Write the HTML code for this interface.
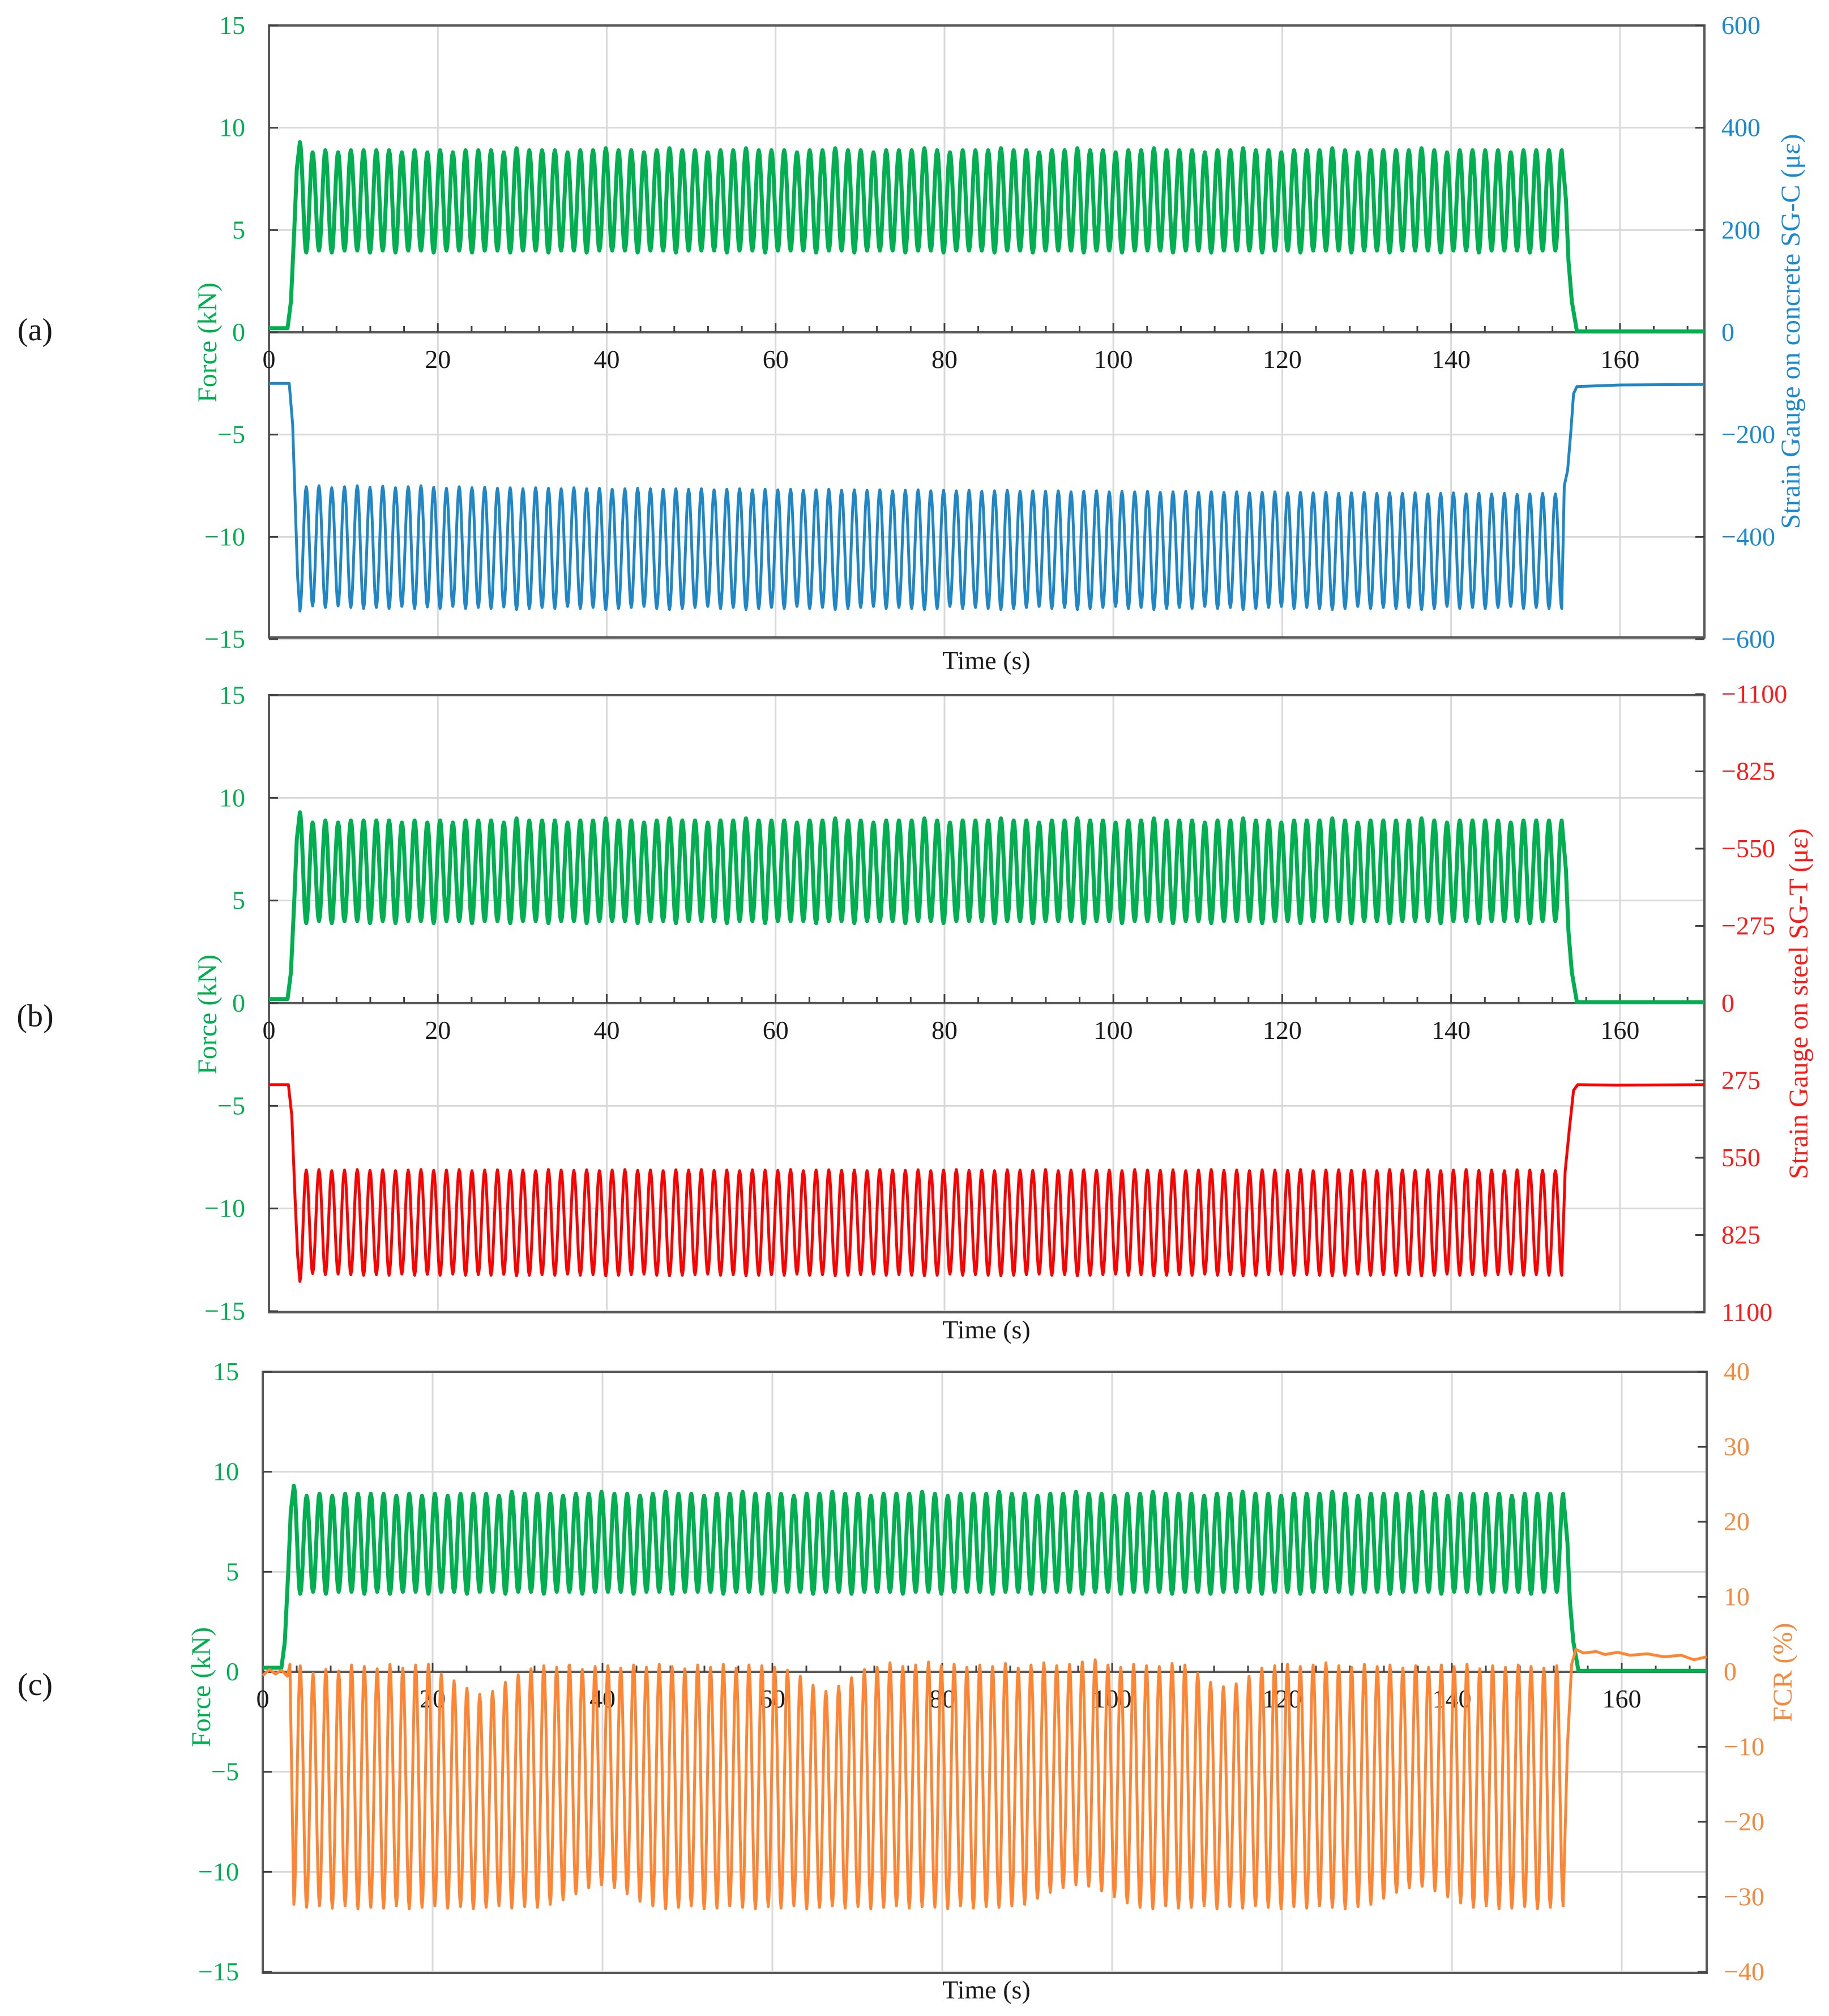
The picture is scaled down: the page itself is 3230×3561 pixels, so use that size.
<!DOCTYPE html>
<html><head><meta charset="utf-8"><title>Force and strain time histories</title>
<style>
html,body{margin:0;padding:0;background:#fff}
svg{display:block}
text{font-family:"Liberation Serif",serif}
</style></head>
<body>
<svg id="chart" xmlns="http://www.w3.org/2000/svg" width="3230" height="3561" viewBox="0 0 3230 3561"></svg>
<script>
// ---- shared x axis data ----
const xTicks = [0,20,40,60,80,100,120,140,160];
const xMax = 170;
const cycleStart = 3.66;   // time of first force peak (s)
const cyclePeriod = 1.5095; // s

// ---- Force (kN) values at each force peak and between peaks ----
const forcePeaks = [9.3,8.8,8.9,8.8,8.9,8.9,8.9,8.9,8.8,8.9,
8.8,8.9,8.8,8.9,8.9,8.9,8.8,9.0,8.9,8.9,
8.9,8.8,8.9,8.9,9.0,8.9,8.9,8.8,8.9,9.0,
8.9,8.9,8.8,8.9,8.9,9.0,8.9,8.9,8.9,8.8,
8.9,8.9,9.0,8.9,8.9,8.8,8.9,8.9,8.9,9.0,
8.9,8.8,8.9,8.9,8.9,9.0,8.9,8.9,8.8,8.9,
8.9,9.0,8.9,8.9,8.8,8.9,8.9,9.0,8.9,8.9,
8.9,8.8,8.9,8.9,9.0,8.9,8.9,8.8,8.9,8.9,
8.9,9.0,8.9,8.8,8.9,8.9,8.9,8.9,9.0,8.9,
8.8,8.9,8.9,8.9,8.9,8.8,8.9,8.9,8.9,8.9];
const forceTroughs = [3.9,4.0,3.9,4.0,4.0,3.9,4.0,3.9,4.0,4.0,
3.9,4.0,4.0,3.9,4.0,4.0,3.9,4.0,4.0,3.9,
4.0,4.0,3.9,4.0,4.0,4.0,3.9,4.0,4.0,3.9,
4.0,4.0,4.0,3.9,4.0,4.0,3.9,4.0,4.0,4.0,
3.9,4.0,4.0,3.9,4.0,4.0,4.0,3.9,4.0,4.0,
3.9,4.0,4.0,4.0,3.9,4.0,4.0,3.9,4.0,4.0,
4.0,3.9,4.0,4.0,3.9,4.0,4.0,4.0,3.9,4.0,
4.0,3.9,4.0,4.0,4.0,3.9,4.0,4.0,3.9,4.0,
4.0,4.0,3.9,4.0,4.0,3.9,4.0,4.0,4.0,3.9,
4.0,4.0,3.9,4.0,4.0,4.0,3.9,4.0,4.0];
const forcePre = [[0,0.2],[2.2,0.2],[2.6,1.5],[3.0,5.0],[3.3,8.0]];
const forcePost = [[153.6,6.5],[153.9,3.5],[154.3,1.5],[154.9,0.05],[170,0.05]];

// ---- SG-C (µε) concrete strain ----
const sgcAtPeaks = [-545,-535,-538,-535,-538,-540,-538,-540,-536,-540,
-537,-540,-536,-540,-538,-540,-537,-542,-540,-538,
-540,-536,-540,-538,-542,-540,-538,-536,-540,-542,
-540,-538,-536,-540,-538,-542,-540,-538,-540,-536,
-540,-538,-542,-540,-538,-536,-540,-538,-540,-542,
-540,-536,-540,-538,-540,-542,-540,-538,-536,-540,
-538,-542,-540,-538,-536,-540,-538,-542,-540,-538,
-540,-536,-540,-538,-542,-540,-538,-536,-540,-538,
-540,-542,-540,-536,-540,-538,-540,-538,-542,-540,
-536,-540,-538,-540,-538,-536,-540,-538,-540,-540];
const sgcBetween = [-302,-300,-304,-302,-300,-303,-301,-304,-302,-300,
-303,-305,-302,-304,-303,-305,-304,-306,-304,-305,
-306,-304,-306,-305,-307,-306,-305,-306,-307,-306,
-307,-306,-308,-307,-306,-308,-307,-308,-307,-309,
-308,-307,-309,-308,-309,-308,-310,-309,-308,-310,
-309,-310,-309,-311,-310,-309,-311,-310,-311,-310,
-312,-311,-310,-312,-311,-312,-311,-313,-312,-311,
-313,-312,-313,-312,-314,-313,-312,-314,-313,-314,
-313,-315,-314,-313,-315,-314,-315,-314,-316,-315,
-314,-316,-315,-316,-315,-317,-316,-315,-316];
const sgcPre = [[0,-100],[2.4,-100],[2.8,-180],[3.1,-330],[3.4,-480]];
const sgcPost = [[153.4,-300],[153.8,-270],[154.2,-190],[154.5,-120],[154.9,-106],[160,-103],[170,-102]];

// ---- SG-T (µε) steel strain ----
const sgtAtPeaks = [990,962,966,964,966,968,966,968,964,968,
965,968,964,968,966,968,965,970,968,966,
968,964,968,966,970,968,966,964,968,970,
968,966,964,968,966,970,968,966,968,964,
968,966,970,968,966,964,968,966,968,970,
968,964,968,966,968,970,968,966,964,968,
966,970,968,966,964,968,966,970,968,966,
968,964,968,966,970,968,966,964,968,966,
968,970,968,964,968,966,968,966,970,968,
964,968,966,968,966,964,968,966,968,968];
const sgtBetween = [594,592,596,594,592,595,593,596,594,592,
595,594,592,596,594,593,595,594,596,592,
594,595,593,596,594,592,595,594,596,593,
594,592,595,594,596,593,594,595,592,596,
594,593,595,594,596,592,594,595,593,596,
594,592,595,594,596,593,594,595,592,596,
594,593,595,594,596,592,594,595,593,596,
594,592,595,594,596,593,594,595,592,596,
594,593,595,594,596,592,594,595,593,596,
594,592,595,594,596,593,594,595,596];
const sgtPre = [[0,290],[2.3,290],[2.7,400],[3.1,700],[3.4,900]];
const sgtPost = [[153.5,600],[154.0,450],[154.5,310],[155.0,290],[159.5,292],[170,290]];

// ---- FCR (%) ----
const fcrAtPeaks = [-31.0,-31.4,-31.2,-31.5,-31.2,-31.6,-31.4,-31.5,-31.2,-31.6,
-31.4,-31.2,-31.5,-31.3,-31.6,-31.4,-31.2,-31.5,-31.3,-31.4,
-31.0,-30.4,-29.6,-28.8,-28.4,-28.8,-29.6,-30.6,-31.2,-31.6,
-31.4,-31.2,-31.6,-31.5,-31.2,-31.4,-31.6,-31.3,-31.5,-31.2,
-31.6,-31.4,-31.2,-31.5,-31.3,-31.6,-31.4,-31.2,-31.5,-31.3,
-31.4,-31.6,-31.2,-31.5,-31.3,-31.4,-31.2,-31.0,-30.2,-29.4,
-28.8,-28.4,-28.6,-29.2,-30.0,-30.8,-31.4,-31.6,-31.2,-31.5,
-31.4,-31.2,-31.6,-31.3,-31.5,-31.2,-31.4,-31.6,-31.3,-31.5,
-31.2,-31.4,-31.6,-31.3,-31.0,-30.2,-29.4,-28.8,-28.6,-29.2,
-30.0,-30.8,-31.4,-31.2,-31.6,-31.5,-31.3,-31.6,-31.4,-31.2];
const fcrBetween = [0.8,-0.2,0.3,0.1,0.9,0.7,0.4,1.0,0.5,0.9,
1.0,-0.3,-1.2,-2.2,-3.0,-2.6,-1.4,-0.4,0.4,0.8,
0.6,0.9,0.3,0.7,0.8,0.5,0.9,0.6,1.0,0.7,
0.4,0.9,0.6,1.0,0.5,0.9,0.8,0.6,0.2,-0.6,
-1.8,-2.6,-1.9,-0.8,0.3,0.6,1.2,0.7,0.9,1.3,
0.8,1.0,0.6,0.9,0.7,1.1,0.5,0.9,1.2,0.8,
1.0,1.3,1.6,0.9,0.6,1.0,0.8,0.7,1.1,0.9,
-0.2,-1.4,-2.0,-1.6,-0.6,0.5,0.8,1.0,0.7,0.9,
1.2,0.8,0.6,1.0,0.7,0.9,0.5,0.8,0.6,0.9,
0.7,1.0,0.4,0.8,0.6,0.9,0.7,0.5,0.8];
const fcrPre = [[0,-0.5],[0.8,0.3],[1.5,-0.3],[2.2,0.2],[2.9,-0.6],[3.2,1.0]];
const fcrPost = [[153.6,-10],[154.1,1],[154.6,3.0],[155.5,2.5],[157,2.7],[158,2.3],[159.5,2.6],[161,2.2],[163,2.4],[165,2.0],[167,2.2],[168.5,1.6],[170,2.0]];

// ---- axis tick labels ----
const leftTicks = [15,10,5,0,-5,-10,-15];
const rightTicksA = [600,400,200,0,-200,-400,-600];
const rightTicksB = [-1100,-825,-550,-275,0,275,550,825,1100];
const rightTicksC = [40,30,20,10,0,-10,-20,-30,-40];

const NS = 'http://www.w3.org/2000/svg';
const svg = document.getElementById('chart');
function el(tag, attrs, parent){
  const e = document.createElementNS(NS, tag);
  for (const k in attrs) e.setAttribute(k, attrs[k]);
  (parent||svg).appendChild(e);
  return e;
}
function fmt(v){ return (v<0?'\u2212':'') + Math.abs(v); }

const panels = [
  {id:'a', top:45, zero:587, bottom:1126, left:475, right:3010, rMax:600, rInv:false, rTicks:rightTicksA,
   rColor:'#1a8ad0', rTitle:'Strain Gauge on concrete SG-C (\u03bc\u03b5)', rTitleX:3178,
   series:{color:'#1f87c6', pre:sgcPre, peaks:sgcAtPeaks, between:sgcBetween, post:sgcPost, w:5}, label:'(a)', labelY:585, timeY:1182, forceY:605, forceX:382},
  {id:'b', top:1228, zero:1772, bottom:2318, left:475, right:3010, rMax:1100, rInv:true, rTicks:rightTicksB,
   rColor:'#ff1a1a', rTitle:'Strain Gauge on steel SG-T (\u03bc\u03b5)', rTitleX:3192,
   series:{color:'#ff0000', pre:sgtPre, peaks:sgtAtPeaks, between:sgtBetween, post:sgtPost, w:5}, label:'(b)', labelY:1797, timeY:2364, forceY:1792, forceX:382},
  {id:'c', top:2423, zero:2953, bottom:3485, left:464, right:3014, rMax:40, rInv:false, rTicks:rightTicksC,
   rColor:'#f58a3c', rTitle:'FCR (%)', rTitleX:3164,
   series:{color:'#ff8533', pre:fcrPre, peaks:fcrAtPeaks, between:fcrBetween, post:fcrPost, w:5}, label:'(c)', labelY:2978, timeY:3530, forceY:2980, forceX:371}
];

function buildPoints(pre, peaks, between, post){
  const ext = [];
  for (let k=0;k<peaks.length;k++){
    ext.push([cycleStart + k*cyclePeriod, peaks[k]]);
    if (k < peaks.length-1 && k < between.length) ext.push([cycleStart + (k+0.5)*cyclePeriod, between[k]]);
  }
  const pts = pre.slice();
  pts.push(ext[0]);
  for (let i=1;i<ext.length;i++){
    const a = ext[i-1], b = ext[i];
    for (let s=1;s<=8;s++){
      const f = (1-Math.cos(Math.PI*s/8))/2;
      pts.push([a[0]+(b[0]-a[0])*s/8, a[1]+(b[1]-a[1])*f]);
    }
  }
  return pts.concat(post);
}

panels.forEach(p=>{
  const g = el('g', { });
  const xs = t => p.left + (t/xMax)*(p.right-p.left);
  const yl = v => p.zero - v*(p.zero-p.top)/15;
  const yr = v => p.rInv ? p.zero + v*(p.bottom-p.zero)/p.rMax : p.zero - v*(p.zero-p.top)/p.rMax;

  const grid = el('g', { }, g);
  xTicks.forEach(t=>{ if(t>0) el('line',{x1:xs(t),x2:xs(t),y1:p.top,y2:p.bottom,stroke:'#d9d9d9','stroke-width':3},grid); });
  leftTicks.forEach(v=>{ el('line',{x1:p.left,x2:p.right,y1:yl(v),y2:yl(v),stroke:'#d9d9d9','stroke-width':3},grid); });

  const frame = el('rect',{x:p.left,y:p.top,width:p.right-p.left,height:p.bottom-p.top,fill:'none',stroke:'#595959','stroke-width':4},g);
  
  
  const za = el('line',{x1:p.left,x2:p.right,y1:p.zero,y2:p.zero,stroke:'#595959','stroke-width':4},g);
  
  
  for (let t=4;t<xMax;t+=4){
    const major = t%20===0;
    el('line',{x1:xs(t),x2:xs(t),y1:p.zero,y2:p.zero-(major?16:11),stroke:'#404040','stroke-width':3},g);
  }
  xTicks.forEach(t=>{
    const tx = el('text',{x:xs(t),y:p.zero+63,'text-anchor':'middle','font-size':46,fill:'#1a1a1a'},g);
    
    
    tx.textContent = t;
  });
  leftTicks.forEach(v=>{
    el('line',{x1:p.left,x2:p.left+16,y1:yl(v),y2:yl(v),stroke:'#404040','stroke-width':3},g);
    const tx = el('text',{x:p.left-42,y:yl(v)+15,'text-anchor':'end','font-size':46,fill:'#00b050'},g);
    
    
    tx.textContent = fmt(v);
  });
  p.rTicks.forEach(v=>{
    el('line',{x1:p.right,x2:p.right-16,y1:yr(v),y2:yr(v),stroke:'#404040','stroke-width':3},g);
    const tx = el('text',{x:p.right+30,y:yr(v)+15,'text-anchor':'start','font-size':46,fill:p.rColor},g);
    
    
    tx.textContent = fmt(v);
  });
  const ft = el('text',{x:p.forceX,y:p.forceY,'text-anchor':'middle','font-size':48,fill:'#00b050',transform:`rotate(-90 ${p.forceX} ${p.forceY})`},g);
  
  
  ft.textContent = 'Force (kN)';
  const ry = (p.top+p.bottom)/2;
  const rt = el('text',{x:p.rTitleX,y:ry,'text-anchor':'middle','font-size':48,fill:p.rColor,transform:`rotate(-90 ${p.rTitleX} ${ry})`},g);
  
  
  rt.textContent = p.rTitle;
  const tt = el('text',{x:1742,y:p.timeY,'text-anchor':'middle','font-size':46,fill:'#1a1a1a'},g);
  
  
  tt.textContent = 'Time (s)';
  const pl = el('text',{x:62,y:p.labelY+16,'text-anchor':'middle','font-size':56,fill:'#1a1a1a'},g);
  
  
  pl.textContent = p.label;

  const s = p.series;
  const sp = buildPoints(s.pre, s.peaks, s.between, s.post);
  const sd = sp.map((q,i)=>(i?'L':'M')+xs(q[0]).toFixed(1)+' '+yr(q[1]).toFixed(1)).join('');
  const sPath = el('path',{d:sd,fill:'none',stroke:s.color,'stroke-width':s.w,'stroke-linejoin':'round'},g);
  
  

  const fp = buildPoints(forcePre, forcePeaks, forceTroughs, forcePost);
  const fd = fp.map((q,i)=>(i?'L':'M')+xs(q[0]).toFixed(1)+' '+yl(q[1]).toFixed(1)).join('');
  const fPath = el('path',{d:fd,fill:'none',stroke:'#00b050','stroke-width':7,'stroke-linejoin':'round'},g);
  
  
  if (p.id==='c') g.insertBefore(fPath, sPath);
});
</script>
</body></html>
